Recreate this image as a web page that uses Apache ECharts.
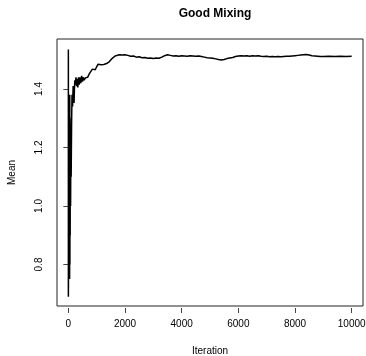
<!DOCTYPE html>
<html>
<head>
<meta charset="utf-8">
<script src="https://cdn.jsdelivr.net/npm/echarts@6/dist/echarts.min.js"></script>
<style>
  html, body { margin: 0; padding: 0; background: #fff; }
  #chart { width: 366px; height: 356px; }
</style>
</head>
<body>
<div id="chart"></div>
<script>
// running mean
const iterations = [
  1,2,3,4,5,6,7,8,9,10,
  11,12,14,16,18,20,23,26,30,35,
  40,45,50,55,60,65,70,80,90,100,
  115,130,150,170,190,202,215,230,250,270,
  290,310,335,360,385,410,440,470,500,530,
  560,600,640,680,720,760,800,850,900,950,
  1000,1050,1100,1150,1200,1250,1300,1350,1400,1450,
  1500,1550,1600,1650,1700,1800,1900,2000,2100,2200,
  2300,2400,2500,2600,2700,2800,2900,3000,3100,3200,
  3300,3400,3500,3600,3700,3800,3900,4000,4100,4200,
  4300,4400,4500,4600,4700,4800,4900,5000,5100,5200,
  5300,5400,5500,5600,5700,5800,5900,6000,6100,6200,
  6300,6400,6500,6600,6700,6800,6900,7000,7100,7200,
  7300,7400,7500,7600,7700,7800,7900,8000,8100,8200,
  8300,8400,8500,8600,8700,8800,8900,9000,9200,9400,
  9600,9800,10000
];
const means = [
  1.535,0.69,1.2,0.72,1.3,0.75,1.25,0.8,1.33,0.85,
  1.35,0.9,1.36,0.95,1.38,1.0,1.37,1.05,1.38,1.1,
  1.36,0.75,1.38,0.8,1.3,0.9,1.28,1.0,1.25,1.1,
  1.28,1.38,1.34,1.41,1.37,1.352,1.40,1.43,1.415,1.44,
  1.41,1.435,1.405,1.44,1.415,1.44,1.42,1.445,1.425,1.44,
  1.43,1.438,1.432,1.44,1.448,1.455,1.46,1.468,1.472,1.466,
  1.476,1.485,1.488,1.483,1.487,1.484,1.49,1.487,1.492,1.494,
  1.498,1.505,1.51,1.513,1.516,1.517,1.516,1.517,1.515,1.512,
  1.513,1.509,1.51,1.507,1.508,1.505,1.506,1.504,1.506,1.505,
  1.509,1.514,1.517,1.515,1.513,1.514,1.512,1.514,1.513,1.512,
  1.514,1.513,1.512,1.513,1.511,1.509,1.507,1.506,1.505,1.503,
  1.501,1.4995,1.501,1.504,1.506,1.508,1.511,1.513,1.514,1.513,
  1.514,1.512,1.514,1.513,1.514,1.512,1.511,1.512,1.510,1.511,
  1.510,1.511,1.510,1.511,1.512,1.512,1.513,1.514,1.515,1.516,
  1.517,1.518,1.516,1.514,1.513,1.512,1.511,1.511,1.512,1.511,
  1.512,1.511,1.512
];
const xTicks = [0, 2000, 4000, 6000, 8000, 10000];
const yTicks = [0.8, 1.0, 1.2, 1.4];

const chart = echarts.init(document.getElementById("chart"));
const font = "Liberation Sans, Arial, sans-serif";

chart.setOption({
  animation: false,
  title: {
    text: "Good Mixing",
    left: 210,
    top: 3,
    textAlign: "center",
    textStyle: { fontFamily: font, fontSize: 12, fontWeight: "bold", color: "#000" },
  },
  grid: {
    left: 57,
    right: 3,
    top: 39,
    bottom: 50,
    outerBoundsMode: "none",
    show: true,
    borderColor: "#222",
    borderWidth: 1,
  },
  xAxis: {
    type: "value",
    min: -400,
    max: 10400,
    offset: 2,
    name: "Iteration",
    nameLocation: "middle",
    nameGap: 38,
    nameTextStyle: { fontFamily: font, fontSize: 10, color: "#000" },
    splitLine: { show: false },
    axisLine: { show: false },
    axisTick: { show: true, length: 5, customValues: xTicks, lineStyle: { color: "#444" } },
    axisLabel: {
      customValues: xTicks,
      margin: 11,
      fontFamily: font,
      fontSize: 10,
      color: "#000",
      formatter: (v) => String(v),
    },
  },
  yAxis: {
    type: "value",
    min: 0.658,
    max: 1.571,
    offset: 2,
    name: "Mean",
    nameLocation: "middle",
    nameRotate: 90,
    nameGap: 38,
    nameTextStyle: { fontFamily: font, fontSize: 10, color: "#000" },
    splitLine: { show: false },
    axisLine: { show: false },
    axisTick: { show: true, length: 5, customValues: yTicks, lineStyle: { color: "#444" } },
    axisLabel: {
      customValues: yTicks,
      rotate: 90,
      margin: 11,
      fontFamily: font,
      fontSize: 10,
      color: "#000",
      formatter: (v) => v.toFixed(1),
    },
  },
  series: [
    {
      type: "line",
      data: iterations.map((it, i) => [it, means[i]]),
      showSymbol: false,
      lineStyle: { color: "#000", width: 1.5 },
    },
  ],
});
</script>
</body>
</html>
